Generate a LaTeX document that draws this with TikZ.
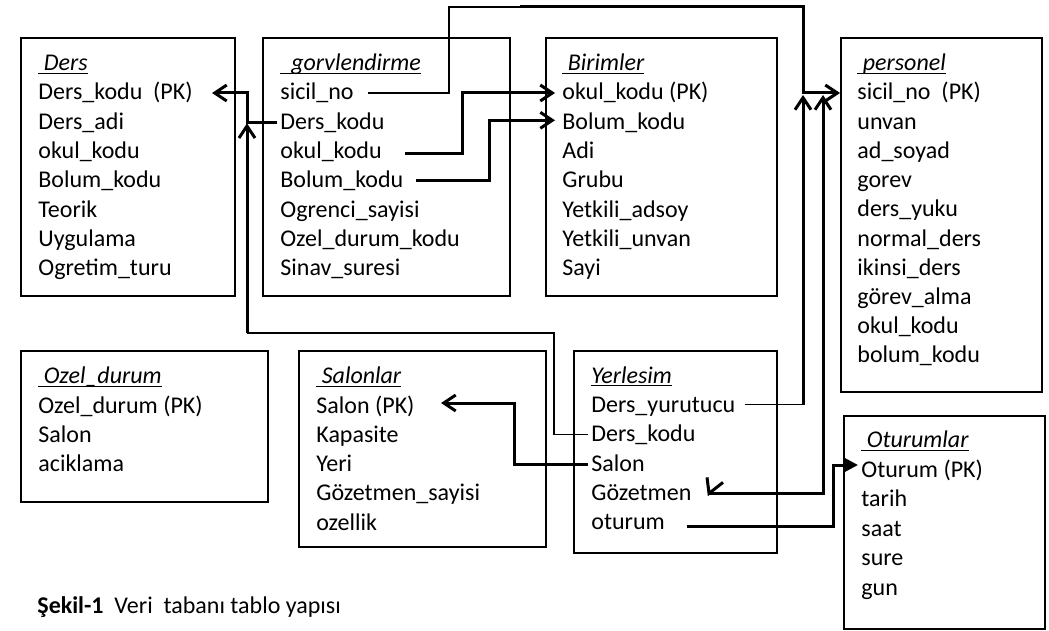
\documentclass[tikz,border=0pt]{standalone}
\usepackage{fontspec}
\setmainfont{Carlito}
\usetikzlibrary{arrows.meta,fit,calc}
\newcommand\ttl[1]{\setbox0=\hbox{\itshape #1}\rlap{\rule[-1.7pt]{\wd0}{0.55pt}}\box0}
\begin{document}
\begin{tikzpicture}[x=0.5pt,y=-0.5pt,
  box/.style={draw,line width=0.8pt,inner sep=0pt},
  fld/.style={anchor=base west,inner sep=0pt,text height=10pt,text depth=3pt,font=\fontsize{12pt}{14pt}\selectfont},
  conthin/.style={line width=0.65pt},
  conthick/.style={line width=1.5pt},
  barb/.style={-{Straight Barb[length=6pt,width=8pt]}},
  tri/.style={-{Triangle[length=7pt,width=7pt]}}]
\useasboundingbox (0,0) rectangle (1049,631);

% ---------- boxes ----------
\node[box,fit={(21,38) (235,296)}] (ders) {};
\node[box,fit={(263,38) (510,296)}] (gor) {};
\node[box,fit={(546,38) (777,296)}] (bir) {};
\node[box,fit={(841,38) (1042,392)}] (per) {};
\node[box,fit={(21,351) (268,502)}] (oze) {};
\node[box,fit={(299,351) (546,547)}] (sal) {};
\node[box,fit={(574,351) (777,553)}] (yer) {};
\node[box,fit={(844,416) (1045,629)}] (otu) {};

% ---------- titles ----------
\node[fld] (dT) at (38,70.7) {\ttl{\ Ders}};
\node[fld] (gT) at (280,70.7) {\ttl{\ \ gorvlendirme}};
\node[fld] (bT) at (562,70.7) {\ttl{\ Birimler}};
\node[fld] (pT) at (857,70.7) {\ttl{\ personel}};
\node[fld] (oT) at (38,383.5) {\ttl{\ Ozel\_durum}};
\node[fld] (sT) at (316,383.5) {\ttl{\ Salonlar}};
\node[fld] (yT) at (591,383) {\ttl{Yerlesim}};
\node[fld] (tT) at (861,447.5) {\ttl{\ Oturumlar}};

% ---------- fields ----------
\foreach \txt [count=\i] in {Ders\_kodu\ \ (PK),Ders\_adi,okul\_kodu,Bolum\_kodu,Teorik,Uygulama,Ogretim\_turu}
  \node[fld] (d\i) at (38,{100+29.3*(\i-1)}) {\txt};
\foreach \txt [count=\i] in {sicil\_no,Ders\_kodu,okul\_kodu,Bolum\_kodu,Ogrenci\_sayisi,Ozel\_durum\_kodu,Sinav\_suresi}
  \node[fld] (g\i) at (280,{100+29.3*(\i-1)}) {\txt};
\foreach \txt [count=\i] in {okul\_kodu (PK),Bolum\_kodu,Adi,Grubu,Yetkili\_adsoy,Yetkili\_unvan,Sayi}
  \node[fld] (b\i) at (562,{100+29.3*(\i-1)}) {\txt};
\foreach \txt [count=\i] in {sicil\_no\ \ (PK),unvan,ad\_soyad,gorev,ders\_yuku,normal\_ders,ikinsi\_ders,görev\_alma,okul\_kodu,bolum\_kodu}
  \node[fld] (p\i) at (857,{100+29.2*(\i-1)}) {\txt};
\foreach \txt [count=\i] in {Ozel\_durum (PK),Salon,aciklama}
  \node[fld] (o\i) at (38,{413+29.3*(\i-1)}) {\txt};
\foreach \txt [count=\i] in {Salon (PK),Kapasite,Yeri,Gözetmen\_sayisi,ozellik}
  \node[fld] (s\i) at (316,{413+29.3*(\i-1)}) {\txt};
\foreach \txt [count=\i] in {Ders\_yurutucu,Ders\_kodu,Salon,Gözetmen,oturum}
  \node[fld] (y\i) at (591,{412.5+29.3*(\i-1)}) {\txt};
\foreach \txt [count=\i] in {Oturum (PK),tarih,saat,sure,gun}
  \node[fld] (t\i) at (861,{477+29.5*(\i-1)}) {\txt};

\node[fld] (cap) at (37,613) {\textbf{Şekil-1}\ \ Veri\ \ tabanı tablo yapısı};

% ---------- route coordinates ----------
\coordinate (vA) at (247,0);
\coordinate (tipD) at (212,0);
\coordinate (gL) at (277,0);
\coordinate (sicS) at (368,0);
\coordinate (vS) at (449,0);
\coordinate (topY) at (0,7);
\coordinate (thinEnd) at (520,0);
\coordinate (vP1) at (803,0);
\coordinate (tipP) at (840,0);
\coordinate (vP2) at (823,0);
\coordinate (okS) at (405,0);
\coordinate (vOk) at (462,0);
\coordinate (tipB) at (555,0);
\coordinate (bkS) at (416,0);
\coordinate (vBk) at (489,0);
\coordinate (yurS) at (745,0);
\coordinate (gozTip) at (709,0);
\coordinate (dkY) at (0,333);
\coordinate (vY) at (554,0);
\coordinate (yL) at (588,0);
\coordinate (salTip) at (441,0);
\coordinate (vSal) at (514,0);
\coordinate (otS) at (687,0);
\coordinate (vOt) at (833,0);
\coordinate (tipO) at (858,0);

% ---------- connectors ----------
% gorvlendirme.Ders_kodu -> Ders.Ders_kodu
\draw[conthick,barb] (g2.west -| gL) -- (g2.west -| vA) -- (d1.west -| vA) -- (d1.west -| tipD);
% Yerlesim.Ders_kodu -> Ders
\draw[conthin] (y2.west -| yL) -- (y2.west -| vY) -- (vY |- dkY) -- (vA |- dkY);
\draw[conthick,barb] (vA |- dkY) -- ($(g2.west -| vA)+(0,1)$);
% gorvlendirme.sicil_no -> personel.sicil_no
\draw[conthin] (g1.west -| sicS) -- (g1.west -| vS) -- (vS |- topY) -- (thinEnd |- topY);
\draw[conthick,barb] (thinEnd |- topY) -- (vP1 |- topY) -- (vP1 |- p1.west) -- (p1.west -| tipP);
% Yerlesim.Ders_yurutucu -> personel
\draw[conthin] ($(y1.west -| yurS)+(0,-1)$) -- ($(y1.west -| vP1)+(0,-1)$);
\draw[conthick,barb] ($(y1.west -| vP1)+(0,-1)$) -- ($(vP1 |- p1.west)+(0,2)$);
% Yerlesim.Gozetmen <-> personel
\draw[conthick,barb] (y4.west -| gozTip) -- (y4.west -| vP2) -- ($(vP2 |- p1.west)+(0,2)$);
\draw[conthick] ($(y4.west -| gozTip)+(-2,-16)$) -- (y4.west -| gozTip) -- ($(y4.west -| gozTip)+(14,-11)$);
% gorvlendirme.okul_kodu -> Birimler.okul_kodu
\draw[conthick,barb] ($(g3.west -| okS)+(0,2)$) -- ($(g3.west -| vOk)+(0,2)$) -- (b1.west -| vOk) -- (b1.west -| tipB);
% gorvlendirme.Bolum_kodu -> Birimler.Bolum_kodu
\draw[conthick,barb] (g4.west -| bkS) -- (g4.west -| vBk) -- ($(b2.west -| vBk)+(0,-2)$) -- ($(b2.west -| tipB)+(0,-2)$);
% Yerlesim.Salon -> Salonlar.Salon
\draw[conthick,barb] (y3.west -| yL) -- (y3.west -| vSal) -- ($(s1.west -| vSal)+(0,-3)$) -- ($(s1.west -| salTip)+(0,-3)$);
% Yerlesim.oturum -> Oturumlar.Oturum
\draw[conthick,tri] ($(y5.west -| otS)+(0,4)$) -- ($(y5.west -| vOt)+(0,4)$) -- ($(t1.west -| vOt)+(0,-5)$) -- ($(t1.west -| tipO)+(0,-5)$);
\end{tikzpicture}
\end{document}
